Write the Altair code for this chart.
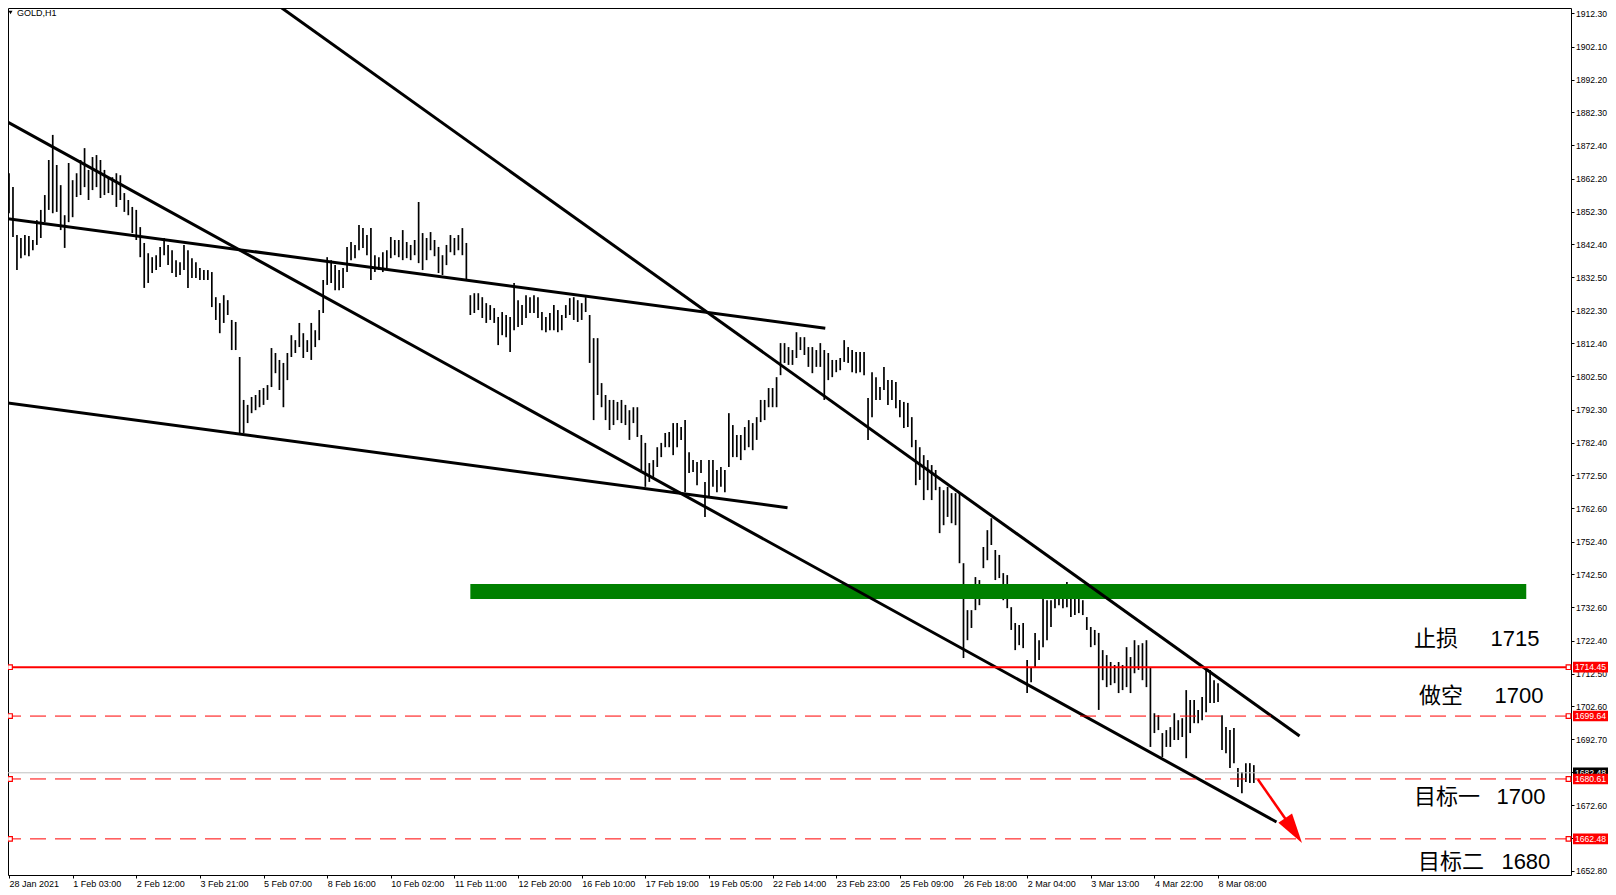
import altair as alt
import pandas as pd

# ---- price bars (each entry = 2 hourly bars) ----
HIGHS = [
    1863.9, 1859.7, 1845.2, 1844.3, 1845.2, 1844.9, 1843.7, 1849.7, 1852.8, 1857.3,
    1867.9, 1875.5, 1866.4, 1860.3, 1851.2, 1867.0, 1861.8, 1863.9, 1867.9, 1871.5,
    1864.9, 1868.8, 1869.4, 1867.9, 1864.9, 1862.7, 1862.7, 1863.9, 1863.3, 1857.9,
    1855.8, 1853.7, 1852.8, 1847.6, 1842.8, 1839.7, 1838.5, 1839.1, 1841.6, 1844.3,
    1842.2, 1840.6, 1837.6, 1837.0, 1842.2, 1840.6, 1838.2, 1837.0, 1835.2, 1834.6,
    1834.6, 1834.0, 1826.4, 1824.6, 1827.0, 1825.5, 1819.5, 1818.9, 1808.3, 1795.3,
    1793.8, 1796.2, 1796.8, 1798.3, 1798.9, 1799.8, 1811.0, 1809.5, 1807.4, 1806.5,
    1809.5, 1814.9, 1813.4, 1818.6, 1815.5, 1813.4, 1818.6, 1816.4, 1822.5, 1831.6,
    1838.5, 1837.6, 1836.1, 1834.6, 1835.2, 1841.6, 1843.1, 1842.2, 1848.2, 1847.3,
    1845.2, 1847.3, 1839.1, 1838.5, 1840.0, 1840.6, 1844.6, 1843.7, 1843.7, 1846.7,
    1843.1, 1842.2, 1843.7, 1855.2, 1845.8, 1844.3, 1846.1, 1843.7, 1841.6, 1839.1,
    1842.2, 1845.2, 1844.3, 1845.2, 1847.3, 1842.8, 1827.0, 1827.6, 1827.6, 1826.4,
    1824.6, 1824.0, 1823.1, 1820.4, 1821.9, 1821.0, 1820.4, 1830.7, 1825.5, 1824.0,
    1827.0, 1826.4, 1827.0, 1826.4, 1821.9, 1820.4, 1821.6, 1824.0, 1822.5, 1821.0,
    1824.0, 1826.1, 1826.4, 1825.5, 1824.6, 1826.4, 1821.0, 1814.0, 1814.0, 1800.4,
    1796.8, 1795.3, 1795.3, 1794.7, 1795.3, 1793.8, 1792.2, 1793.1, 1793.1, 1784.7,
    1782.3, 1776.2, 1777.1, 1781.0, 1782.3, 1785.3, 1785.6, 1788.3, 1788.3, 1787.1,
    1789.2, 1779.5, 1777.1, 1776.5, 1777.1, 1770.5, 1777.1, 1777.1, 1774.1, 1775.0,
    1774.1, 1791.3, 1787.7, 1784.7, 1784.7, 1787.1, 1789.2, 1788.3, 1790.1, 1795.3,
    1795.3, 1798.9, 1798.9, 1802.2, 1812.5, 1812.5, 1811.3, 1810.4, 1815.8, 1814.3,
    1814.3, 1811.3, 1811.3, 1810.4, 1812.5, 1810.4, 1809.5, 1807.4, 1807.4, 1808.0,
    1813.4, 1811.3, 1810.4, 1809.8, 1809.8, 1809.8, 1795.9, 1803.7, 1802.2, 1799.2,
    1805.3, 1801.3, 1801.3, 1800.7, 1795.3, 1794.7, 1794.4, 1790.1, 1783.2, 1781.0,
    1778.6, 1777.1, 1775.6, 1774.1, 1769.0, 1768.0, 1769.0, 1767.1, 1767.1, 1767.1,
    1745.9, 1731.7, 1731.7, 1741.7, 1740.8, 1750.8, 1755.9, 1759.5, 1749.9, 1748.4,
    1742.9, 1742.3, 1732.6, 1727.8, 1727.2, 1727.8, 1716.6, 1714.5, 1724.8, 1722.6,
    1735.6, 1734.7, 1734.7, 1736.3, 1738.4, 1737.8, 1740.2, 1736.9, 1736.3, 1735.6,
    1734.7, 1729.6, 1726.6, 1725.7, 1724.8, 1719.6, 1718.1, 1716.0, 1715.1, 1716.0,
    1715.1, 1720.5, 1717.5, 1722.6, 1721.1, 1721.7, 1722.6, 1714.5, 1700.5, 1699.9,
    1694.5, 1695.4, 1696.3, 1700.5, 1698.4, 1699.0, 1707.5, 1704.5, 1704.5, 1701.5,
    1705.4, 1714.2, 1713.6, 1710.5, 1709.6, 1699.9, 1696.3, 1695.4, 1696.0, 1683.9,
    1682.7, 1685.4, 1685.4, 1684.8,
]
LOWS = [
    1851.8, 1844.6, 1834.6, 1838.2, 1839.1, 1838.8, 1840.6, 1842.2, 1844.3, 1849.1,
    1852.8, 1851.8, 1852.2, 1846.7, 1841.3, 1849.1, 1850.6, 1856.7, 1857.3, 1859.7,
    1855.8, 1858.8, 1859.7, 1856.4, 1857.3, 1857.9, 1857.3, 1853.7, 1855.8, 1852.2,
    1851.2, 1845.8, 1843.7, 1838.5, 1829.2, 1830.7, 1833.7, 1834.6, 1835.5, 1839.1,
    1836.1, 1833.7, 1832.5, 1833.1, 1834.6, 1829.2, 1832.2, 1832.2, 1831.6, 1831.6,
    1831.6, 1823.4, 1819.5, 1815.5, 1818.6, 1821.0, 1810.4, 1810.4, 1785.3, 1785.3,
    1788.3, 1791.3, 1792.2, 1793.1, 1793.8, 1795.3, 1799.2, 1803.4, 1798.3, 1793.1,
    1801.3, 1808.3, 1809.5, 1811.3, 1808.0, 1809.8, 1807.4, 1811.3, 1813.4, 1821.6,
    1830.1, 1830.7, 1828.5, 1828.5, 1829.2, 1834.0, 1837.6, 1838.2, 1840.6, 1841.3,
    1839.1, 1831.6, 1834.0, 1834.6, 1834.0, 1835.2, 1838.2, 1839.1, 1838.5, 1837.6,
    1838.2, 1837.6, 1839.1, 1836.7, 1834.6, 1837.6, 1840.6, 1838.8, 1833.7, 1833.1,
    1836.1, 1840.0, 1839.1, 1840.6, 1839.1, 1831.6, 1821.0, 1821.6, 1822.5, 1820.1,
    1818.6, 1819.5, 1818.6, 1811.9, 1814.9, 1814.3, 1809.8, 1816.4, 1817.4, 1818.0,
    1820.1, 1821.6, 1821.6, 1820.1, 1816.4, 1815.8, 1816.4, 1816.4, 1815.8, 1816.4,
    1820.1, 1821.0, 1819.5, 1818.9, 1819.5, 1821.9, 1806.5, 1789.2, 1796.8, 1793.1,
    1789.2, 1786.2, 1787.7, 1789.2, 1788.3, 1787.7, 1783.2, 1788.3, 1784.1, 1774.1,
    1769.0, 1770.5, 1772.0, 1775.0, 1778.0, 1781.0, 1781.0, 1778.6, 1781.0, 1783.2,
    1767.4, 1773.2, 1773.5, 1769.5, 1773.2, 1759.9, 1765.9, 1769.0, 1767.4, 1769.0,
    1767.4, 1775.0, 1778.0, 1778.0, 1777.1, 1780.1, 1781.0, 1780.1, 1783.2, 1788.6,
    1789.2, 1793.1, 1793.1, 1793.1, 1802.8, 1806.5, 1805.9, 1805.9, 1808.0, 1810.4,
    1808.9, 1805.3, 1803.4, 1805.3, 1805.3, 1795.3, 1801.3, 1802.2, 1803.7, 1804.3,
    1806.8, 1806.5, 1803.7, 1803.4, 1803.7, 1802.8, 1783.2, 1790.1, 1795.3, 1795.3,
    1798.3, 1793.8, 1795.3, 1792.8, 1790.1, 1786.8, 1787.1, 1781.0, 1769.5, 1771.1,
    1765.0, 1768.0, 1765.0, 1768.0, 1755.0, 1757.4, 1759.9, 1758.0, 1757.4, 1745.9,
    1717.2, 1722.6, 1726.3, 1731.7, 1733.2, 1744.4, 1746.8, 1751.4, 1740.8, 1741.4,
    1734.7, 1732.3, 1725.7, 1719.6, 1721.1, 1720.2, 1706.6, 1709.9, 1714.5, 1716.6,
    1720.5, 1722.6, 1726.6, 1732.3, 1733.2, 1732.3, 1732.6, 1729.6, 1730.2, 1730.8,
    1730.2, 1725.7, 1720.5, 1721.1, 1701.5, 1710.5, 1708.4, 1709.0, 1709.6, 1706.6,
    1707.5, 1708.4, 1706.6, 1712.6, 1713.6, 1710.5, 1708.4, 1690.3, 1694.5, 1695.4,
    1687.2, 1690.3, 1690.3, 1692.4, 1692.4, 1693.3, 1686.9, 1694.5, 1697.5, 1697.5,
    1698.4, 1700.8, 1703.6, 1703.6, 1703.9, 1689.4, 1688.4, 1683.9, 1685.4, 1678.2,
    1676.3, 1679.7, 1679.4, 1679.4,
]
HOURS_PER_ENTRY = 2

# ---- time axis labels (one label every 32 hourly bars) ----
X_LABELS = ["28 Jan 2021", "1 Feb 03:00", "2 Feb 12:00", "3 Feb 21:00", "5 Feb 07:00",
            "8 Feb 16:00", "10 Feb 02:00", "11 Feb 11:00", "12 Feb 20:00", "16 Feb 10:00",
            "17 Feb 19:00", "19 Feb 05:00", "22 Feb 14:00", "23 Feb 23:00", "25 Feb 09:00",
            "26 Feb 18:00", "2 Mar 04:00", "3 Mar 13:00", "4 Mar 22:00", "8 Mar 08:00"]
X_LABEL_STEP = 32

# ---- price axis ticks ----
Y_TICKS = [1912.30, 1902.10, 1892.20, 1882.30, 1872.40, 1862.20, 1852.30, 1842.40,
           1832.50, 1822.30, 1812.40, 1802.50, 1792.30, 1782.40, 1772.50, 1762.60,
           1752.40, 1742.50, 1732.60, 1722.40, 1712.50, 1702.60, 1692.70, 1682.60,
           1672.60, 1662.70, 1652.80]

# ---- trend lines (hour index, price) ----
TREND_H1 = [-1, -1, -1, 133]
TREND_P1 = [1879.5, 1850.2, 1794.4, 1915.7]
TREND_H2 = [637.4, 410.5, 391.5, 649]
TREND_P2 = [1667.6, 1817.0, 1762.7, 1693.6]

# ---- resistance zone ----
ZONE_H = [232, 763]
ZONE_P = [1735.1, 1739.6]

# ---- levels ----
LEVELS = [1714.45, 1699.64, 1680.61, 1662.48]
BID = 1682.48

# ---- annotations ----
NOTE_CN = ["止损", "做空", "目标一", "目标二"]
NOTE_NUM = ["1715", "1700", "1700", "1680"]
NOTE_P = [1722.9, 1705.7, 1675.1, 1655.5]
NOTE_H_CN = [706.5, 709, 706.5, 708.5]
NOTE_H_NUM = [745, 747, 748, 750.5]

# ---- arrow ----
ARROW_H = [628, 646]
ARROW_P = [1680.5, 1665.0]

W, H = 1563, 867
RIGHT = 37  # svg width W + RIGHT = 1600 fits the page body
xscale = alt.Scale(domain=[-0.5, 785.5], nice=False, zero=False)
yscale = alt.Scale(domain=[1651.55, 1913.9], nice=False, zero=False)

labels_js = "[" + ",".join("'" + s + "'" for s in X_LABELS) + "]"
xaxis = alt.Axis(values=[i * X_LABEL_STEP for i in range(len(X_LABELS))],
                 labelExpr=labels_js + "[round(datum.value / " + str(X_LABEL_STEP) + ")]",
                 orient="bottom", grid=False, domain=False, tickSize=3, tickColor="black",
                 labelAlign="left", labelPadding=1, labelFont="Liberation Sans",
                 labelFontSize=9, labelColor="black", title=None, labelOverlap=False,
                 labelFlush=False)
yaxis = alt.Axis(values=Y_TICKS, labelExpr="format(datum.value, '.2f')", orient="right",
                 grid=False, domain=False, tickSize=3, tickColor="black", labelPadding=1.5,
                 labelFont="Liberation Sans", labelFontSize=8.6, labelColor="black",
                 title=None, labelOverlap=False, labelBaseline="middle")


def X(field):
    return alt.X(field, scale=xscale, axis=xaxis)


def Y(field):
    return alt.Y(field, scale=yscale, axis=yaxis)


bars_df = pd.DataFrame({"h": [i * HOURS_PER_ENTRY for i in range(len(HIGHS))],
                        "hi": HIGHS, "lo": LOWS})
bars = alt.Chart(bars_df).mark_rule(color="black", strokeWidth=1.7, clip=True).encode(
    x=X("h:Q"), y=Y("lo:Q"), y2="hi:Q")

one = pd.DataFrame({"k": [0]})

bid_line = alt.Chart(pd.DataFrame({"p": [BID]})).mark_rule(color="#c0c0c0", strokeWidth=1).encode(
    y=Y("p:Q"))

zone = alt.Chart(pd.DataFrame({"h1": [ZONE_H[0]], "h2": [ZONE_H[1]],
                               "p1": [ZONE_P[0]], "p2": [ZONE_P[1]]})).mark_rect(
    color="#008000", clip=True).encode(x=X("h1:Q"), x2="h2:Q", y=Y("p1:Q"), y2="p2:Q")

trend_df = pd.DataFrame({"h1": TREND_H1, "p1": TREND_P1, "h2": TREND_H2, "p2": TREND_P2})
trends = alt.Chart(trend_df).mark_rule(color="black", strokeWidth=3, clip=True).encode(
    x=X("h1:Q"), x2="h2:Q", y=Y("p1:Q"), y2="p2:Q")

lv_df = pd.DataFrame({"p": LEVELS, "i": list(range(len(LEVELS)))})
solid_lv = alt.Chart(lv_df).transform_filter("datum.i == 0").mark_rule(
    color="#ff0000", strokeWidth=2).encode(y=Y("p:Q"))
dash_lv = alt.Chart(lv_df).transform_filter("datum.i > 0").mark_rule(
    color="#ff0000", strokeWidth=1, strokeDash=[16, 9]).encode(y=Y("p:Q"))
sq_right = alt.Chart(lv_df).mark_point(shape="square", size=22, filled=True, fill="white",
                                       stroke="#ff0000", strokeWidth=1.2, opacity=1).encode(
    x=alt.value(W - 2.5), y=Y("p:Q"))
sq_left = alt.Chart(lv_df).mark_point(shape="square", size=22, filled=True, fill="white",
                                      stroke="#ff0000", strokeWidth=1.2, opacity=1).encode(
    x=alt.value(2), y=Y("p:Q"))

arrow_df = pd.DataFrame({"h1": [ARROW_H[0]], "p1": [ARROW_P[0]],
                         "h2": [ARROW_H[1]], "p2": [ARROW_P[1]]})
arrow_shaft = alt.Chart(arrow_df).mark_rule(color="#ff0000", strokeWidth=2.5).encode(
    x=X("h1:Q"), x2="h2:Q", y=Y("p1:Q"), y2="p2:Q")
arrow_head = alt.Chart(arrow_df).mark_point(
    shape="M0,-1L0.55,1L-0.55,1Z", size=900, filled=True, color="#ff0000",
    opacity=1, angle=146).encode(x=X("h2:Q"), y=Y("p2:Q"))

note_df = pd.DataFrame({"cn": NOTE_CN, "num": NOTE_NUM, "p": NOTE_P,
                        "hc": NOTE_H_CN, "hn": NOTE_H_NUM})
notes_cn = alt.Chart(note_df).mark_text(align="left", baseline="middle",
                                        font="Noto Sans CJK SC", fontSize=22,
                                        color="black").encode(
    x=X("hc:Q"), y=Y("p:Q"), text="cn:N")
notes_num = alt.Chart(note_df).mark_text(align="left", baseline="middle",
                                         font="Liberation Sans", fontSize=22,
                                         color="black").encode(
    x=X("hn:Q"), y=Y("p:Q"), text="num:N")

# price tags on the right axis
bid_box = alt.Chart(pd.DataFrame({"p": [BID]})).transform_calculate(
    top="datum.p + 1.6", bot="datum.p - 1.6").mark_rect(color="black", clip=False).encode(
    x=alt.value(W + 2), x2=alt.value(W + RIGHT), y=Y("top:Q"), y2="bot:Q")
bid_txt = alt.Chart(pd.DataFrame({"p": [BID]})).transform_calculate(
    lab="format(datum.p, '.2f')").mark_text(align="left", baseline="middle", color="white",
                                             font="Liberation Sans", fontSize=8.6).encode(
    x=alt.value(W + 4), y=Y("p:Q"), text="lab:N")
lv_box = alt.Chart(lv_df).transform_calculate(
    top="datum.p + 1.6", bot="datum.p - 1.6").mark_rect(color="#ff0000", clip=False).encode(
    x=alt.value(W + 2), x2=alt.value(W + RIGHT), y=Y("top:Q"), y2="bot:Q")
lv_txt = alt.Chart(lv_df).transform_calculate(
    lab="format(datum.p, '.2f')").mark_text(align="left", baseline="middle", color="white",
                                             font="Liberation Sans", fontSize=8.6).encode(
    x=alt.value(W + 4), y=Y("p:Q"), text="lab:N")

title_tri = alt.Chart(one).mark_point(shape="triangle-down", size=16, filled=True,
                                      color="black", opacity=1).encode(
    x=alt.value(2.5), y=alt.value(4.5))
title_txt = alt.Chart(one).mark_text(text="GOLD,H1", align="left", baseline="middle",
                                     font="Liberation Sans", fontSize=9,
                                     color="black").encode(
    x=alt.value(9), y=alt.value(5))

chart = alt.layer(
    bars, bid_line, zone, trends, solid_lv, dash_lv, sq_left, sq_right,
    arrow_shaft, arrow_head, notes_cn, notes_num,
    bid_box, bid_txt, lv_box, lv_txt, title_tri, title_txt,
).properties(
    width=W, height=H,
    autosize=alt.AutoSizeParams(type="none"),
    padding={"left": 0, "top": 0, "right": RIGHT, "bottom": 12},
).configure_view(stroke="black", strokeWidth=1)

chart.save("out.html", embed_options={"renderer": "svg", "actions": False})
